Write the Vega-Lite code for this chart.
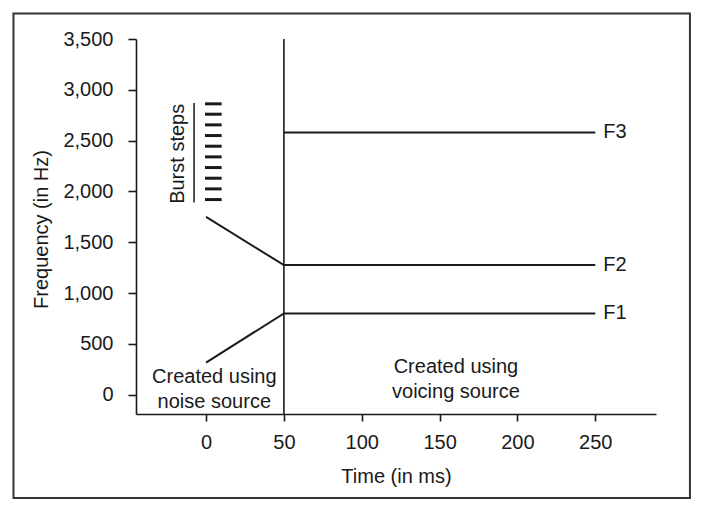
{
  "$schema": "https://vega.github.io/schema/vega-lite/v6.json",
  "width": 520,
  "height": 375,
  "autosize": {"type": "none"},
  "padding": {"left": 136, "top": 39, "right": 48, "bottom": 99},
  "background": "white",
  "config": {
    "view": {"stroke": null},
    "font": "Liberation Sans",
    "axis": {
      "grid": false,
      "domainColor": "#1a1a1a",
      "domainWidth": 1.6,
      "tickColor": "#1a1a1a",
      "tickWidth": 1.6,
      "labelFontSize": 20,
      "labelColor": "#1a1a1a",
      "labelOverlap": false,
      "labelFlush": false,
      "titleFontSize": 20,
      "titleFontWeight": "normal",
      "titleColor": "#1a1a1a"
    }
  },
  "datasets": {
    "formants": [
      {"series": "F1", "t": 0, "f": 315},
      {"series": "F1", "t": 50, "f": 800},
      {"series": "F1", "t": 250, "f": 800},
      {"series": "F2", "t": 0, "f": 1750},
      {"series": "F2", "t": 50, "f": 1275},
      {"series": "F2", "t": 250, "f": 1275},
      {"series": "F3", "t": 50, "f": 2580},
      {"series": "F3", "t": 250, "f": 2580}
    ],
    "burst": [
      {"f": 1920}, {"f": 2025}, {"f": 2130}, {"f": 2235}, {"f": 2340},
      {"f": 2445}, {"f": 2550}, {"f": 2655}, {"f": 2760}, {"f": 2862}
    ],
    "notes": [
      {"t": 5.3, "f": 171, "label": "Created using\nnoise source"},
      {"t": 160.5, "f": 269, "label": "Created using\nvoicing source"}
    ],
    "one": [{}]
  },
  "layer": [
    {
      "data": {"name": "formants"},
      "mark": {"type": "line", "color": "#1a1a1a", "strokeWidth": 2},
      "encoding": {
        "x": {
          "field": "t",
          "type": "quantitative",
          "scale": {"domain": [-45, 289], "nice": false, "zero": false},
          "axis": {
            "title": "Time (in ms)",
            "values": [0, 50, 100, 150, 200, 250],
            "tickSize": 7,
            "labelPadding": 11,
            "titleBaseline": "alphabetic",
            "titleY": 68
          }
        },
        "y": {
          "field": "f",
          "type": "quantitative",
          "scale": {"domain": [-190, 3500], "nice": false, "zero": false},
          "axis": {
            "title": "Frequency (in Hz)",
            "values": [0, 500, 1000, 1500, 2000, 2500, 3000, 3500],
            "format": ",d",
            "tickSize": 8,
            "labelPadding": 15,
            "titleBaseline": "alphabetic",
            "titleX": -89,
            "titleY": 190
          }
        },
        "detail": {"field": "series"}
      }
    },
    {
      "data": {"name": "one"},
      "mark": {"type": "rule", "color": "#1a1a1a", "strokeWidth": 1.6},
      "encoding": {
        "x": {"datum": 50, "type": "quantitative"},
        "y": {"datum": -190, "type": "quantitative"},
        "y2": {"datum": 3500}
      }
    },
    {
      "data": {"name": "burst"},
      "mark": {"type": "rule", "color": "#1a1a1a", "strokeWidth": 3},
      "encoding": {
        "x": {"datum": -0.7, "type": "quantitative"},
        "x2": {"datum": 10},
        "y": {"field": "f", "type": "quantitative"}
      }
    },
    {
      "data": {"name": "one"},
      "mark": {"type": "rule", "color": "#1a1a1a", "strokeWidth": 1.5},
      "encoding": {
        "x": {"datum": -7.7, "type": "quantitative"},
        "y": {"datum": 1890, "type": "quantitative"},
        "y2": {"datum": 2870}
      }
    },
    {
      "data": {"name": "one"},
      "mark": {"type": "text", "text": "Burst steps", "angle": 270, "fontSize": 20, "align": "center", "baseline": "middle", "color": "#1a1a1a"},
      "encoding": {
        "x": {"datum": -18, "type": "quantitative"},
        "y": {"datum": 2370, "type": "quantitative"}
      }
    },
    {
      "data": {"name": "formants"},
      "transform": [{"filter": "datum.t == 250"}],
      "mark": {"type": "text", "fontSize": 20, "align": "left", "baseline": "middle", "dx": 8, "color": "#1a1a1a"},
      "encoding": {
        "x": {"field": "t", "type": "quantitative"},
        "y": {"field": "f", "type": "quantitative"},
        "text": {"field": "series", "type": "nominal"}
      }
    },
    {
      "data": {"name": "notes"},
      "mark": {"type": "text", "fontSize": 20, "lineHeight": 25, "lineBreak": "\n", "align": "center", "baseline": "middle", "color": "#1a1a1a"},
      "encoding": {
        "x": {"field": "t", "type": "quantitative"},
        "y": {"field": "f", "type": "quantitative"},
        "text": {"field": "label", "type": "nominal"}
      }
    },
    {
      "data": {"name": "one"},
      "mark": {"type": "rect", "filled": false, "color": "#333333", "strokeWidth": 2},
      "encoding": {
        "x": {"datum": -123.7, "type": "quantitative"},
        "x2": {"datum": 310.8},
        "y": {"datum": 3750.9, "type": "quantitative"},
        "y2": {"datum": -1016.6}
      }
    }
  ]
}
